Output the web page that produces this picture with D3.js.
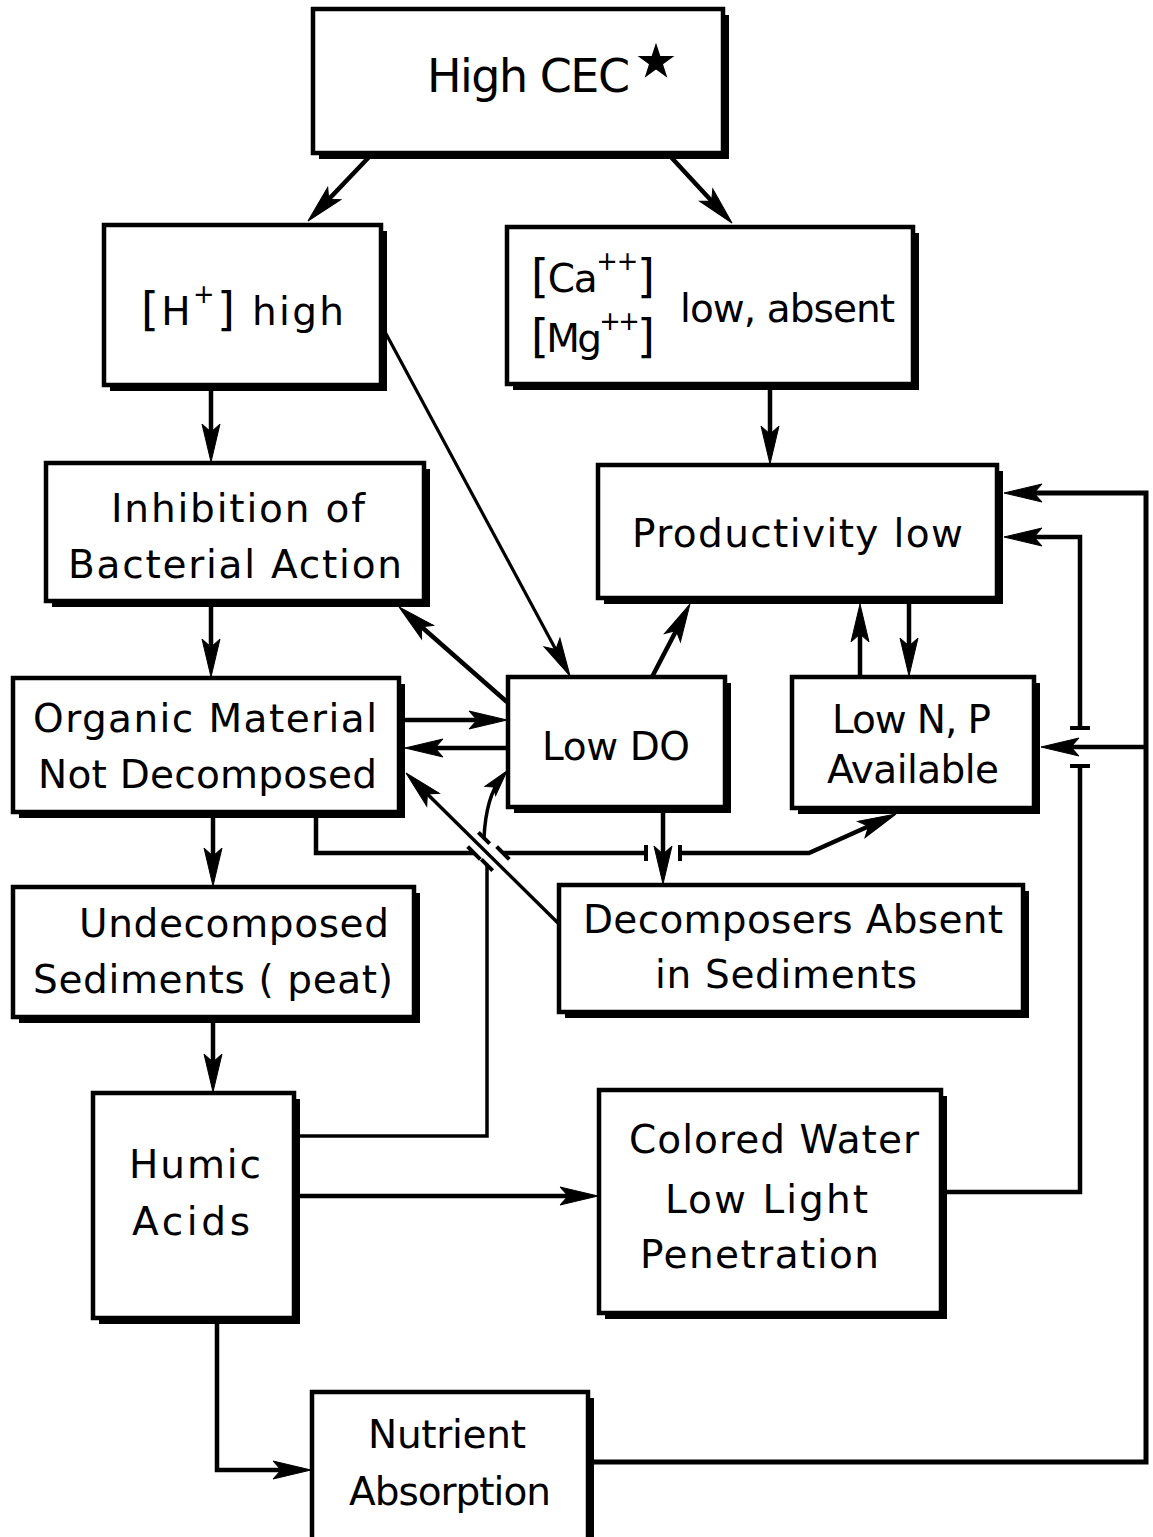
<!DOCTYPE html>
<html>
<head>
<meta charset="utf-8">
<script src="https://cdnjs.cloudflare.com/ajax/libs/d3/7.8.5/d3.min.js"></script>
<style>
	body { margin: 0; background: #fff; }
	#graphicContainer { width: 1153px; height: 1537px; overflow: hidden; }
	text { font-family: "DejaVu Sans", "Liberation Sans", sans-serif; fill: #000; }
</style>
</head>
<body>
<div id="graphicContainer"></div>
<script>

// boxes of the diagram and the text in each, line by line
// ("^" marks a superscript, brackets are drawn tall)

var box_ids = ["cec", "hplus", "cation", "inhibition", "productivity", "organic", "lowdo",
	"lownp", "undecomposed", "decomposers", "humic", "colored", "nutrient"];

var box_labels = [
	["High  CEC"],
	["[H^+] high"],
	["[Ca^++]", "[Mg^++]", "low, absent"],
	["Inhibition of", "Bacterial Action"],
	["Productivity  low"],
	["Organic Material", "Not Decomposed"],
	["Low DO"],
	["Low N, P", "Available"],
	["Undecomposed", "Sediments ( peat)"],
	["Decomposers  Absent", "in Sediments"],
	["Humic", "Acids"],
	["Colored Water", "Low Light", "Penetration"],
	["Nutrient", "Absorption"]
];

// cause -> effect links

var link_from = ["cec", "cec", "hplus", "hplus", "cation", "inhibition", "lowdo", "lowdo",
	"productivity", "lownp", "organic", "lowdo", "decomposers", "organic", "lowdo", "organic",
	"undecomposed", "humic", "humic", "colored", "humic", "nutrient", "nutrient"];

var link_to = ["hplus", "cation", "inhibition", "lowdo", "productivity", "organic", "inhibition", "productivity",
	"lownp", "productivity", "lowdo", "organic", "organic", "undecomposed", "decomposers", "lownp",
	"humic", "lowdo", "colored", "productivity", "nutrient", "productivity", "lownp"];

// ---- layout (page units, 1153 x 1537) ----

var frames = {
	cec: [313, 9, 410, 144],
	hplus: [104, 225, 277, 160],
	cation: [507, 227, 406, 157],
	inhibition: [46, 463, 378, 138],
	productivity: [598, 465, 399, 133],
	organic: [13, 678, 386, 134],
	lowdo: [508, 677, 217, 130],
	lownp: [792, 677, 242, 131],
	undecomposed: [13, 887, 401, 130],
	decomposers: [559, 885, 464, 127],
	humic: [93, 1093, 201, 225],
	colored: [599, 1090, 342, 223],
	nutrient: [312, 1392, 276, 170]
};

// left x, baseline, width of the lettering, optional font size
var label_pos = {
	cec: [[427, 92, 203, 46]],
	hplus: [[141, 325, 203]],
	cation: [[531, 292, 124], [531, 352, 124], [680, 322, 215]],
	inhibition: [[111, 522, 254], [68, 578, 334]],
	productivity: [[632, 547, 331]],
	organic: [[33, 732, 344], [38, 788, 339]],
	lowdo: [[542, 760, 148]],
	lownp: [[832, 733, 159], [827, 783, 172]],
	undecomposed: [[79, 937, 310], [33, 993, 360]],
	decomposers: [[583, 933, 420], [655, 988, 262]],
	humic: [[129, 1178, 132], [132, 1235, 118]],
	colored: [[629, 1153, 290], [665, 1213, 203], [640, 1268, 239]],
	nutrient: [[368, 1448, 158], [349, 1505, 202]]
};

// each link is one or more pieces; a piece may end in an arrow head
var routes = [
	[{p: [[370, 156], [308, 221]], head: true}],
	[{p: [[670, 156], [732, 223]], head: true}],
	[{p: [[211, 389], [211, 462]], head: true}],
	[{p: [[384, 330], [570, 676]], head: true, w: 3.2}],
	[{p: [[770, 389], [770, 464]], head: true}],
	[{p: [[211, 606], [211, 677]], head: true}],
	[{p: [[507, 702], [399, 607]], head: true}],
	[{p: [[652, 677], [690, 604]], head: true}],
	[{p: [[909, 604], [909, 676]], head: true}],
	[{p: [[860, 677], [860, 604]], head: true}],
	[{p: [[405, 720], [507, 720]], head: true}],
	[{p: [[507, 748], [405, 748]], head: true}],
	[{p: [[558, 923], [406, 773]], head: true, w: 3.5}],
	[{p: [[213, 818], [213, 886]], head: true}],
	[{p: [[663, 813], [663, 884]], head: true}],
	[{p: [[316, 815], [316, 853], [474, 853]]}, {p: [[503, 853], [646, 853]]},
		{p: [[680, 853], [809, 853], [896, 814]], head: true}],
	[{p: [[213, 1022], [213, 1092]], head: true}],
	[{p: [[297, 1136], [487, 1136], [487, 865]], w: 3.5},
		{p: [[484, 838], [486, 796], [507, 771]], head: true, curve: true, w: 3.5, small: true}],
	[{p: [[299, 1196], [598, 1196]], head: true}],
	[{p: [[947, 1192], [1080, 1192], [1080, 766]]}, {p: [[1080, 728], [1080, 537], [1004, 537]], head: true}],
	[{p: [[217, 1322], [217, 1470], [311, 1470]], head: true}],
	[{p: [[593, 1462], [1146, 1462], [1146, 493], [1004, 493]], head: true, w: 5}],
	[{p: [[1146, 747], [1041, 747]], head: true}]
];

// little bars where one line hops over another: x, y, angle, length
var ticks = [[474, 853, 45, 18], [503, 853, 45, 18], [487, 865, 45, 16], [484, 838, 45, 16],
	[646, 853, 90, 16], [680, 853, 90, 16], [1080, 766, 0, 20], [1080, 728, 0, 20]];

function draw_diagram() {

		var width = 1153;
		var height = 1537;
		var font_size = 39;
		var shadow = 6;

		d3.select("#graphicContainer svg").remove();

		var svg = d3.select("#graphicContainer").append("svg")
			.attr("width", width)
			.attr("height", height)
			.attr("id", "svg");

		svg.append("rect")
			.attr("width", width)
			.attr("height", height)
			.attr("fill", "#fff");

		var x = d3.scaleLinear().domain([0, 1153]).range([0, width]);
		var y = d3.scaleLinear().domain([0, 1537]).range([0, height]);

		var boxes = box_ids.map((id, i) => ({id: id, lines: box_labels[i], frame: frames[id], pos: label_pos[id]}));

		var links = routes.map((r, i) => ({from: link_from[i], to: link_to[i], pieces: r}));

		var line = d3.line().x(d => x(d[0])).y(d => y(d[1]));

		// connector lines, pulled back a little where a head sits on them

		var pieces = links.flatMap(l => l.pieces.map(p => Object.assign({link: l.from + ">" + l.to}, p)));

		pieces.forEach(p => {
			var pts = p.p.map(d => d.slice());
			if (p.head) {
				var a = pts[pts.length - 2], b = pts[pts.length - 1];
				var len = Math.hypot(b[0] - a[0], b[1] - a[1]);
				var cut = p.small ? 8 : 14;
				pts[pts.length - 1] = [b[0] - (b[0] - a[0]) / len * cut, b[1] - (b[1] - a[1]) / len * cut];
			}
			p.draw = pts;
		});

		svg.append("g")
			.attr("class", "links")
			.selectAll("path")
			.data(pieces)
			.enter()
			.append("path")
			.attr("d", d => d.curve ? "M" + x(d.draw[0][0]) + "," + y(d.draw[0][1]) +
				"Q" + x(d.draw[1][0]) + "," + y(d.draw[1][1]) + " " + x(d.draw[2][0]) + "," + y(d.draw[2][1]) : line(d.draw))
			.attr("fill", "none")
			.attr("stroke", "#000")
			.attr("stroke-width", d => d.w || 4.5)
			.attr("stroke-linejoin", "miter");

		// hop marks

		svg.append("g")
			.selectAll("line")
			.data(ticks)
			.enter()
			.append("line")
			.attr("x1", d => x(d[0]) - Math.cos(d[2] * Math.PI / 180) * d[3] / 2)
			.attr("y1", d => y(d[1]) - Math.sin(d[2] * Math.PI / 180) * d[3] / 2)
			.attr("x2", d => x(d[0]) + Math.cos(d[2] * Math.PI / 180) * d[3] / 2)
			.attr("y2", d => y(d[1]) + Math.sin(d[2] * Math.PI / 180) * d[3] / 2)
			.attr("stroke", "#000")
			.attr("stroke-width", 4);

		// boxes: a black shadow offset down-right, then the white box

		var g = svg.append("g")
			.attr("class", "boxes")
			.selectAll("g")
			.data(boxes)
			.enter()
			.append("g");

		g.append("rect")
			.attr("x", d => x(d.frame[0]) + shadow)
			.attr("y", d => y(d.frame[1]) + shadow)
			.attr("width", d => x(d.frame[2]) - x(0))
			.attr("height", d => y(d.frame[3]) - y(0))
			.attr("fill", "#000");

		g.append("rect")
			.attr("x", d => x(d.frame[0]))
			.attr("y", d => y(d.frame[1]))
			.attr("width", d => x(d.frame[2]) - x(0))
			.attr("height", d => y(d.frame[3]) - y(0))
			.attr("fill", "#fff")
			.attr("stroke", "#000")
			.attr("stroke-width", 4.5);

		// labels, with tall brackets and raised charges, fitted to the lettering width

		g.each(function(d) {
			var box = d3.select(this);
			d.lines.forEach((str, i) => {
				var pos = d.pos[i];
				var size = pos[3] || font_size;
				var t = box.append("text")
					.attr("x", x(pos[0]))
					.attr("y", y(pos[1]))
					.attr("text-anchor", "start")
					.attr("font-size", size)
					.attr("textLength", x(pos[2]) - x(0))
					.attr("lengthAdjust", "spacing");
				var shift = 0;
				str.split(/(\[|\]|\^\+\+|\^\+)/).filter(s => s.length).forEach(part => {
					var target = 0, fs = size, txt = part;
					if (part == "[" || part == "]") {
						fs = size * 1.18;
					} else if (part[0] == "^") {
						fs = size * 0.66;
						target = -size * 0.56;
						txt = part.slice(1);
					}
					t.append("tspan")
						.attr("font-size", fs)
						.attr("dy", target - shift)
						.text(txt);
					shift = target;
				});
			});
		});

		// the star after High CEC

		svg.append("path")
			.attr("d", d3.symbol().type(d3.symbolStar).size(420))
			.attr("transform", `translate(${x(656)},${y(62)})`)
			.attr("fill", "#000");

		// arrow heads: long narrow triangles with a slight notch

		var heads = pieces.filter(p => p.head).map(p => {
			var n = p.p.length;
			var a = p.p[n - 2], b = p.p[n - 1];
			return {x: b[0], y: b[1], angle: Math.atan2(b[1] - a[1], b[0] - a[0]) * 180 / Math.PI, small: p.small};
		});

		svg.append("g")
			.attr("class", "heads")
			.selectAll("path")
			.data(heads)
			.enter()
			.append("path")
			.attr("d", d => d.small ? "M0,0L-26,-7L-21,0L-26,7Z" : "M0,0L-38,-9L-30,0L-38,9Z")
			.attr("transform", d => `translate(${x(d.x)},${y(d.y)}) rotate(${d.angle})`)
			.attr("fill", "#000")
			.attr("stroke", "#000")
			.attr("stroke-width", 1)
			.attr("stroke-linejoin", "miter");
}

draw_diagram();

</script>
</body>
</html>
